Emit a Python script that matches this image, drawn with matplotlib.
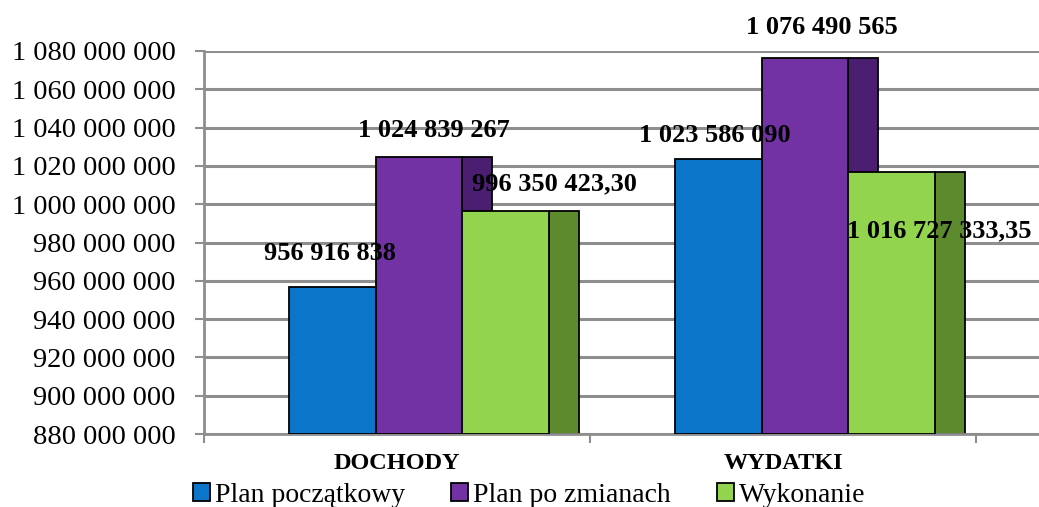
import matplotlib
matplotlib.use("Agg")
import matplotlib.pyplot as plt
from matplotlib.patches import Patch
from matplotlib.ticker import FuncFormatter, FixedLocator

# ---- data ----
categories = ["DOCHODY", "WYDATKI"]
series_names = ["Plan początkowy", "Plan po zmianach", "Wykonanie"]
plan_poczatkowy = [956916838, 1023586090]
plan_po_zmianach = [1024839267, 1076490565]
wykonanie = [996350423.30, 1016727333.35]
label_texts = [
    ["956 916 838", "1 023 586 090"],
    ["1 024 839 267", "1 076 490 565"],
    ["996 350 423,30", "1 016 727 333,35"],
]
y_ticks = list(range(880000000, 1080000001, 20000000))

# ---- style ----
front_colors = ["#0B75C9", "#7232A4", "#92D44E"]
side_colors = ["#0A5A9A", "#4B1E72", "#5E8A2E"]
serif = ["Liberation Serif", "DejaVu Serif"]
plt.rcParams["font.family"] = serif

W, H = 1039, 507
fig = plt.figure(figsize=(W / 100, H / 100), dpi=100)
ax = fig.add_axes([204 / W, 73 / H, (W - 204) / W, 383 / H])

bar_w = 0.224
side_w = 0.0777
start_off = 0.2215
# label offsets in pixels (dx, dy) from bar front centre top
label_offsets = [[(-3, 33), (-4, 24)], [(15, 26), (17, 30)], [(49, 27), (48, -59)]]

all_series = [plan_poczatkowy, plan_po_zmianach, wykonanie]
base = 880000000
for s, vals in enumerate(all_series):
    for i, v in enumerate(vals):
        left = i + start_off + s * bar_w
        # side face (behind next bar's front)
        ax.bar(left + bar_w, v - base, width=side_w, bottom=base, align="edge",
               color=side_colors[s], edgecolor="black", linewidth=1.3, zorder=2 + s * 0.01)
        ax.bar(left, v - base, width=bar_w, bottom=base, align="edge",
               color=front_colors[s], edgecolor="black", linewidth=1.3, zorder=3 + s * 0.01)
        dx, dy = label_offsets[s][i]
        ax.annotate(label_texts[s][i], xy=(left + bar_w / 2, v), xytext=(dx, dy),
                    textcoords="offset pixels", ha="center", va="center",
                    fontsize=19, fontweight="bold", color="black", zorder=10,
                    annotation_clip=False)

ax.set_xlim(0, (W - 204) / 386)
ax.set_ylim(880000000, 1080000000)
ax.set_yticks(y_ticks)
ax.yaxis.set_major_formatter(FuncFormatter(lambda v, p: f"{v:,.0f}".replace(",", " ")))
ax.grid(axis="y", color="#8E8E8E", linewidth=2.2, zorder=0)
ax.set_axisbelow(True)

ax.set_xticks([0.5, 1.5])
ax.set_xticklabels(categories, fontsize=17.5, fontweight="bold")
ax.xaxis.set_minor_locator(FixedLocator([0, 1, 2]))
ax.tick_params(axis="x", which="major", length=0, pad=14)
ax.tick_params(axis="x", which="minor", length=6.5, width=1.5, color="#8E8E8E")
ax.tick_params(axis="y", length=6.5, width=1.5, color="#8E8E8E", labelsize=20.5, pad=14)

for sp in ["top", "right"]:
    ax.spines[sp].set_visible(False)
for sp in ["left", "bottom"]:
    ax.spines[sp].set_color("#8E8E8E")
    ax.spines[sp].set_linewidth(2)

handles = [Patch(facecolor=c, edgecolor="black", linewidth=1.3) for c in front_colors]
fig.legend(handles, series_names, loc="center", bbox_to_anchor=(529 / W, 1 - 495 / H),
           ncol=3, frameon=False, fontsize=20, handlelength=0.62, handleheight=0.62,
           handletextpad=0.18, columnspacing=1.65, borderpad=0, borderaxespad=0)

fig.savefig("out.png", dpi=100)
